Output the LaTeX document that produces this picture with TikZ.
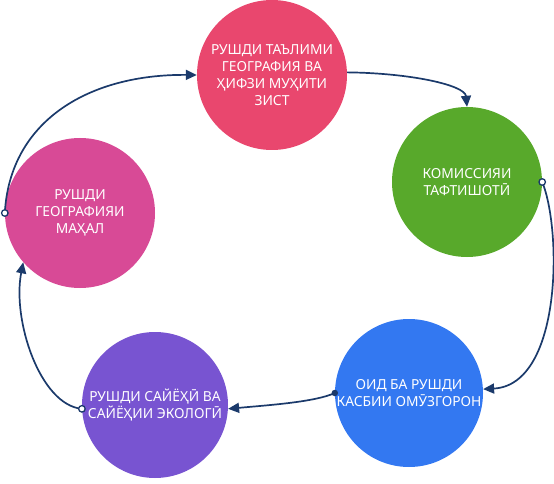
\documentclass[tikz,border=0pt]{standalone}
\usepackage{fontspec}
\setmainfont{Noto Sans}
\usetikzlibrary{arrows.meta}
\definecolor{cA}{HTML}{E9476E}
\definecolor{cB}{HTML}{58A92B}
\definecolor{cC}{HTML}{3378F1}
\definecolor{cD}{HTML}{7854D1}
\definecolor{cE}{HTML}{D84A96}
\definecolor{navy}{HTML}{1B3A6B}
\begin{document}
\begin{tikzpicture}[x=1pt,y=-1pt,
  bub/.style={circle, minimum size=150pt, inner sep=0pt, text=white, align=center,
    font=\fontsize{13.8}{16.8}\selectfont},
  con/.style={draw=navy, line width=1.7pt, -{Triangle[length=11pt,width=10pt]}},
  ring/.style={circle, draw=navy, fill=white, line width=1.3pt, inner sep=0pt, minimum size=6.5pt},
  dotm/.style={circle, fill=navy, inner sep=0pt, minimum size=6.5pt}]
\useasboundingbox (0,0) rectangle (554,484);
\node[bub, fill=cA] (c1) at (272,75) {РУШДИ ТАЪЛИМИ\\ГЕОГРАФИЯ ВА\\ҲИФЗИ МУҲИТИ\\ЗИСТ};
\node[bub, fill=cB] (c2) at (467,182) {КОМИССИЯИ\\ТАФТИШОТӢ};
\node[bub, fill=cC, minimum size=148pt] (c3) at (409,393) {ОИД БА РУШДИ\\КАСБИИ ОМӮЗГОРОН};
\node[bub, fill=cD, minimum size=146pt] (c4) at (155,405) {РУШДИ САЙЁҲӢ ВА\\САЙЁҲИИ ЭКОЛОГӢ};
\node[bub, fill=cE] (c5) at (80,213) {РУШДИ\\ГЕОГРАФИЯИ\\МАҲАЛ};
\draw[con] (c5.west) .. controls (10,120) and (90,74) .. (c1.west);
\draw[con] (c1.2) .. controls (410,73) and (465,85) .. (c2.north);
\draw[con] (c2.east) .. controls (562,230) and (562,385) .. (c3.3);
\draw[con] (c3.west) .. controls (315,402) and (270,405) .. (c4.-3);
\draw[con] (c4.-177) .. controls (40,405) and (12,320) .. (c5.221);
\node[ring] (m1) at (c5.west) {};
\node[ring] (m2) at (c2.east) {};
\node[dotm] (m3) at (c3.west) {};
\node[ring] (m4) at (c4.-177) {};
\end{tikzpicture}
\end{document}
